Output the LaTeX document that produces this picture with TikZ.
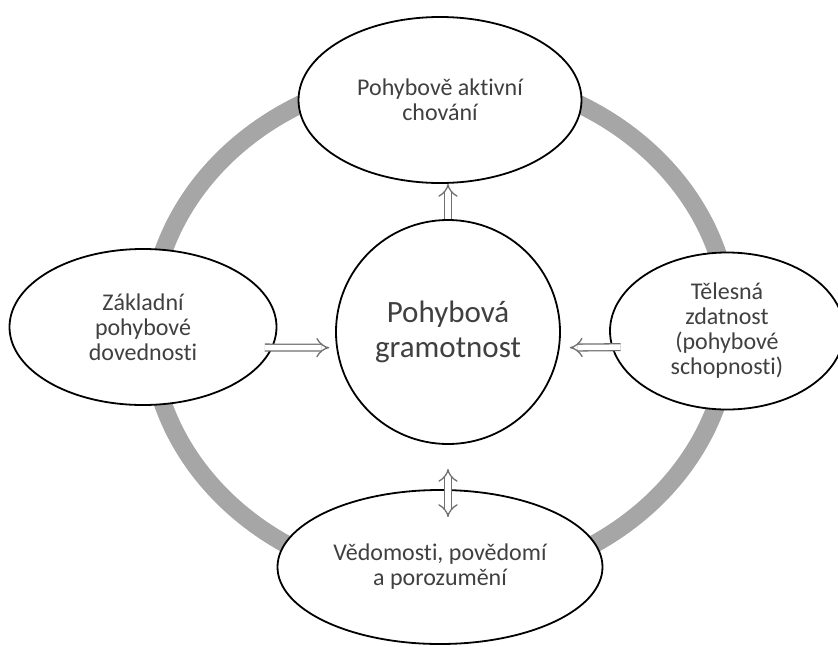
\documentclass[tikz,border=0pt]{standalone}
\usepackage{fontspec}
\setmainfont[Ligatures=NoCommon]{Carlito}
\usetikzlibrary{shapes.geometric,arrows.meta}
\definecolor{ringgray}{HTML}{A6A6A6}
\definecolor{arrowgray}{HTML}{707070}
\definecolor{textgray}{HTML}{404040}

\begin{document}
\begin{tikzpicture}[x=1pt,y=-1pt,
		oval/.style={ellipse,draw,line width=1.8pt,fill=white,inner sep=0pt,align=center,text=textgray,font=\fontsize{24}{25}\selectfont},
		link/.style={draw=arrowgray,line width=1.3pt,double=white,double distance=5.5pt,-{Implies}}]
		\useasboundingbox (0,0) rectangle (838,646);
		\node[ellipse,draw=ringgray,line width=18pt,minimum width=580pt,minimum height=510pt] (ring) at (440,328) {};
		\node[oval,minimum width=283pt,minimum height=166pt] (aktivni) at (440,100) {Pohybově aktivní\\chování};
		\node[oval,minimum width=267pt,minimum height=156pt] (dovednosti) at (143,327) {Základní\\pohybové\\dovednosti};
		\node[oval,minimum width=234pt,minimum height=157pt] (zdatnost) at (727,331) {Tělesná\\zdatnost\\(pohybové\\schopnosti)};
		\node[oval,minimum width=325pt,minimum height=154pt] (vedomosti) at (440,567) {Vědomosti, povědomí\\a porozumění};
		\node[circle,draw,line width=1.8pt,fill=white,minimum size=224pt,inner sep=0pt,align=center,text=textgray,font=\fontsize{31}{35}\selectfont] (gramotnost) at (448,332) {Pohybová\\gramotnost};
		\draw[link] (gramotnost.north) -- (gramotnost.north |- aktivni.south);
		\draw[link,shorten <=-8pt,shorten >=7pt] (dovednosti.-9) -- (gramotnost.188);
		\draw[link,shorten <=-9pt,shorten >=10pt] (zdatnost.188) -- (gramotnost.-8);
		\draw[link,{Implies}-{Implies},shorten <=24pt,shorten >=-28pt] (gramotnost.south) -- (gramotnost.south |- vedomosti.north);
	\end{tikzpicture}
\end{document}
